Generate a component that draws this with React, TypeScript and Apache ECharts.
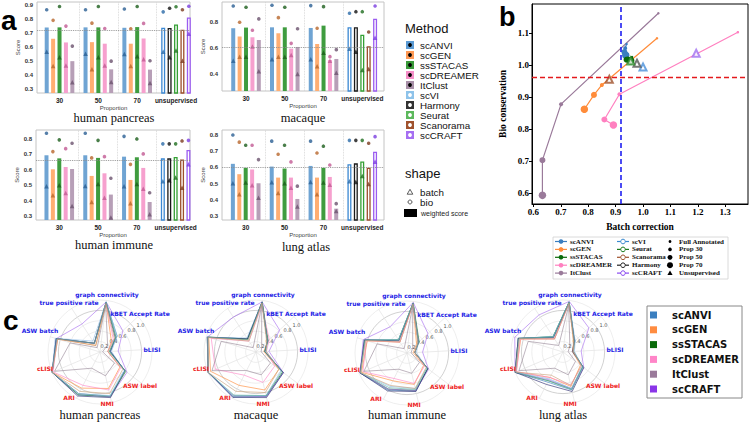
import { useEffect, useRef } from 'react';
import * as echarts from 'echarts';

// ---------------- data: panel a ----------------
const proportions = ['30', '50', '70', 'unsupervised'];
const supMethods = ['scANVI', 'scGEN', 'ssSTACAS', 'scDREAMER', 'ItClust'];
const unsupMethods = ['scVI', 'Harmony', 'Seurat', 'Scanorama', 'scCRAFT'];

// rows: prop 30, prop 50, prop 70, unsupervised ; columns: 5 methods of that group
const pancreasWeighted = [
  [0.739, 0.659, 0.74, 0.633, 0.5],
  [0.74, 0.635, 0.74, 0.624, 0.442],
  [0.737, 0.624, 0.742, 0.661, 0.44],
  [0.737, 0.735, 0.76, 0.723, 0.81],
];
const pancreasBatch = [
  [0.567, 0.465, 0.527, 0.47, 0.35],
  [0.553, 0.442, 0.527, 0.47, 0.352],
  [0.55, 0.465, 0.534, 0.513, 0.345],
  [0.567, 0.527, 0.576, 0.503, 0.694],
];
const pancreasBio = [
  [0.865, 0.79, 0.888, 0.749, 0.607],
  [0.865, 0.77, 0.888, 0.732, 0.5],
  [0.87, 0.73, 0.888, 0.768, 0.503],
  [0.85, 0.876, 0.886, 0.865, 0.89],
];
const pancreasMean = 0.718;

const macaqueWeighted = [
  [0.754, 0.69, 0.759, 0.684, 0.663],
  [0.761, 0.715, 0.761, 0.596, 0.609],
  [0.756, 0.632, 0.774, 0.508, 0.516],
  [0.761, 0.761, 0.704, 0.614, 0.828],
];
const macaqueBatch = [
  [0.503, 0.534, 0.534, 0.612, 0.42],
  [0.514, 0.534, 0.534, 0.547, 0.4],
  [0.514, 0.459, 0.565, 0.503, 0.41],
  [0.595, 0.572, 0.43, 0.438, 0.68],
];
const macaqueBio = [
  [0.926, 0.8, 0.916, 0.738, 0.826],
  [0.932, 0.836, 0.916, 0.637, 0.75],
  [0.929, 0.754, 0.921, 0.534, 0.588],
  [0.87, 0.882, 0.882, 0.725, 0.926],
];
const macaqueMean = 0.612;

const immuneWeighted = [
  [0.694, 0.603, 0.674, 0.618, 0.605],
  [0.694, 0.56, 0.677, 0.577, 0.439],
  [0.685, 0.534, 0.681, 0.612, 0.391],
  [0.674, 0.674, 0.683, 0.666, 0.729],
];
const immuneBatch = [
  [0.493, 0.434, 0.5, 0.45, 0.365],
  [0.495, 0.391, 0.508, 0.419, 0.29],
  [0.493, 0.382, 0.508, 0.477, 0.311],
  [0.525, 0.532, 0.549, 0.484, 0.635],
];
const immuneBio = [
  [0.837, 0.718, 0.794, 0.737, 0.772],
  [0.837, 0.677, 0.791, 0.685, 0.545],
  [0.817, 0.635, 0.8, 0.703, 0.451],
  [0.768, 0.768, 0.768, 0.787, 0.791],
];
const immuneMean = 0.661;

const lungWeighted = [
  [0.622, 0.558, 0.597, 0.587, 0.502],
  [0.605, 0.537, 0.593, 0.537, 0.405],
  [0.609, 0.537, 0.597, 0.541, 0.345],
  [0.619, 0.625, 0.637, 0.598, 0.697],
];
const lungBatch = [
  [0.502, 0.434, 0.506, 0.49, 0.413],
  [0.508, 0.442, 0.502, 0.475, 0.358],
  [0.51, 0.434, 0.506, 0.492, 0.331],
  [0.514, 0.51, 0.547, 0.498, 0.635],
];
const lungBio = [
  [0.8, 0.756, 0.737, 0.737, 0.648],
  [0.762, 0.681, 0.737, 0.634, 0.484],
  [0.762, 0.689, 0.731, 0.615, 0.376],
  [0.767, 0.767, 0.767, 0.749, 0.79],
];
const lungMean = 0.597;

const ticksPancreas = [0.3, 0.4, 0.5, 0.6, 0.7, 0.8, 0.9];
const ticksMacaque = [0.4, 0.6, 0.8];
const ticksImmune = [0.3, 0.4, 0.5, 0.6, 0.7, 0.8];
const ticksLung = [0.3, 0.4, 0.5, 0.6, 0.7, 0.8];

// ---------------- data: panel b ----------------
const levelNames = ['Full Annotated', 'Prop 30', 'Prop 50', 'Prop 70'];
const batchScANVI = [0.94, 0.935, 0.932, 0.937];
const bioScANVI = [1.065, 1.052, 1.04, 1.03];
const batchScGEN = [1.051, 0.85, 0.821, 0.786];
const bioScGEN = [1.083, 0.937, 0.906, 0.861];
const batchSsSTACAS = [0.96, 0.945, 0.94, 0.955];
const bioSsSTACAS = [1.024, 1.02, 1.016, 1.013];
const batchScDREAMER = [1.346, 0.914, 0.859, 0.892];
const bioScDREAMER = [1.102, 0.908, 0.829, 0.812];
const batchItClust = [1.056, 0.701, 0.633, 0.633];
const bioItClust = [1.161, 0.877, 0.702, 0.592];
const unsupBatchB = [1.0, 0.978, 0.955, 0.877, 1.194]; // scVI, Harmony, Seurat, Scanorama, scCRAFT
const unsupBioB = [0.993, 1.005, 1.012, 0.955, 1.036];
const batchThreshold = 0.923;
const bioThreshold = 0.961;
const xTicksB = [0.6, 0.7, 0.8, 0.9, 1.0, 1.1, 1.2, 1.3];
const yTicksB = [0.6, 0.7, 0.8, 0.9, 1.0, 1.1];

// ---------------- data: panel c ----------------
const metrics = ['graph connectivity', 'true positive rate', 'ASW batch', 'cLISI', 'ARI', 'NMI', 'ASW label', 'bLISI', 'kBET Accept Rate'];
const metricIsBatch = [true, true, true, false, false, false, false, true, true];
const radarMethods = ['scANVI', 'scGEN', 'ssSTACAS', 'scDREAMER', 'ItClust', 'scCRAFT', 'scVI', 'Harmony', 'Seurat', 'Scanorama'];
const radarPancreas = [
  [0.97, 0.2, 0.88, 1.0, 0.93, 0.88, 0.6, 0.2, 0.45],
  [0.95, 0.15, 0.85, 1.0, 0.78, 0.72, 0.48, 0.15, 0.3],
  [0.96, 0.2, 0.88, 1.0, 0.92, 0.88, 0.62, 0.18, 0.42],
  [0.95, 0.2, 0.86, 0.98, 0.72, 0.75, 0.5, 0.15, 0.35],
  [0.9, 0.1, 0.6, 0.95, 0.35, 0.47, 0.35, 0.05, 0.2],
  [0.97, 0.64, 0.88, 1.0, 0.9, 0.88, 0.65, 0.35, 0.6],
  [0.96, 0.25, 0.9, 1.0, 0.9, 0.86, 0.58, 0.22, 0.45],
  [0.96, 0.2, 0.88, 1.0, 0.95, 0.9, 0.6, 0.2, 0.4],
  [0.97, 0.2, 0.87, 1.0, 0.9, 0.87, 0.6, 0.18, 0.42],
  [0.94, 0.15, 0.85, 1.0, 0.85, 0.82, 0.55, 0.15, 0.38],
];
const radarMacaque = [
  [0.97, 0.3, 0.98, 1.0, 0.97, 0.88, 0.65, 0.17, 0.3],
  [0.95, 0.28, 0.95, 0.95, 0.72, 0.75, 0.55, 0.15, 0.3],
  [0.97, 0.3, 0.98, 1.0, 0.95, 0.87, 0.64, 0.17, 0.32],
  [0.9, 0.25, 0.9, 0.85, 0.5, 0.6, 0.45, 0.2, 0.35],
  [0.9, 0.1, 0.7, 0.92, 0.4, 0.45, 0.35, 0.1, 0.15],
  [0.97, 0.8, 0.98, 1.0, 0.95, 0.88, 0.66, 0.25, 0.62],
  [0.97, 0.32, 0.97, 1.0, 0.95, 0.86, 0.6, 0.2, 0.3],
  [0.97, 0.3, 0.97, 1.0, 0.98, 0.9, 0.66, 0.17, 0.3],
  [0.96, 0.28, 0.97, 1.0, 0.93, 0.86, 0.62, 0.17, 0.3],
  [0.95, 0.25, 0.96, 1.0, 0.85, 0.8, 0.55, 0.2, 0.28],
];
const radarImmune = [
  [0.97, 0.3, 0.85, 0.98, 0.8, 0.75, 0.5, 0.15, 0.3],
  [0.94, 0.25, 0.8, 0.95, 0.6, 0.62, 0.4, 0.12, 0.25],
  [0.97, 0.3, 0.85, 0.98, 0.78, 0.74, 0.5, 0.15, 0.32],
  [0.93, 0.25, 0.82, 0.92, 0.55, 0.6, 0.42, 0.15, 0.3],
  [0.9, 0.1, 0.6, 0.9, 0.35, 0.4, 0.3, 0.08, 0.15],
  [0.98, 0.6, 0.88, 0.98, 0.78, 0.74, 0.52, 0.3, 0.55],
  [0.96, 0.3, 0.86, 0.97, 0.72, 0.7, 0.48, 0.18, 0.3],
  [0.96, 0.28, 0.86, 0.98, 0.82, 0.76, 0.5, 0.15, 0.3],
  [0.96, 0.3, 0.84, 0.97, 0.75, 0.72, 0.48, 0.15, 0.3],
  [0.95, 0.25, 0.83, 0.97, 0.7, 0.7, 0.46, 0.15, 0.28],
];
const radarLung = [
  [0.97, 0.35, 0.9, 1.0, 0.65, 0.75, 0.48, 0.2, 0.3],
  [0.95, 0.3, 0.85, 0.98, 0.55, 0.68, 0.42, 0.18, 0.28],
  [0.97, 0.35, 0.9, 1.0, 0.62, 0.73, 0.47, 0.2, 0.3],
  [0.94, 0.3, 0.86, 0.97, 0.55, 0.65, 0.45, 0.2, 0.3],
  [0.9, 0.15, 0.7, 0.92, 0.35, 0.45, 0.3, 0.1, 0.18],
  [0.98, 0.85, 0.97, 1.0, 0.6, 0.72, 0.5, 0.35, 0.68],
  [0.97, 0.35, 0.9, 0.99, 0.58, 0.72, 0.46, 0.22, 0.32],
  [0.96, 0.33, 0.9, 1.0, 0.7, 0.78, 0.5, 0.18, 0.3],
  [0.97, 0.35, 0.88, 0.99, 0.62, 0.74, 0.48, 0.2, 0.3],
  [0.95, 0.3, 0.88, 0.99, 0.5, 0.66, 0.44, 0.2, 0.28],
];
const radarTicks = [0.2, 0.4, 0.6, 0.8, 1.0];
const datasetNames = ['human pancreas', 'macaque', 'human immune', 'lung atlas'];

// ---------------- styles ----------------
const SANS = '"Liberation Sans", Arial, sans-serif';
const DEJAVU = '"DejaVu Sans", sans-serif';
const SERIF = '"Liberation Serif", "Times New Roman", serif';

const supBar = ['#6fa4d3', '#ffae72', '#3f9c3f', '#f6a0ce', '#b79fb7'];
const supDot = ['#2a5f93', '#b8672c', '#1b5e1b', '#c25a93', '#6c536e'];
const unsupEdge = ['#3b88d2', '#1a1a1a', '#35a035', '#9c4f2b', '#9b5cf0'];
const unsupDot = ['#2a6aa8', '#111111', '#1f6e1f', '#7a3a1e', '#7b3fe0'];
const legendAFill = ['#5b9bd5', '#ff9a55', '#3a9a3a', '#f58fc8', '#a890a8', '#8ec3ea', '#333333', '#5cb85c', '#a0522d', '#a66ff2'];
const bColors = ['#3a7ebf', '#ff8c3a', '#0a6b0a', '#ff80c0', '#9a7a9a'];
const bUnsupColors = ['#4a90d9', '#555555', '#2f8f2f', '#a0522d', '#a070f0'];
const levelSizes = [2.5, 4, 6, 7.5];
const radarColors = ['#3a7ebf', '#ff8c3a', '#1a7a1a', '#ff88c8', '#9a8a9a', '#a970f0', '#8fbce6', '#2c2c70', '#5fb3a8', '#c9a27a'];
const slotOffset = [-0.33, -0.165, 0, 0.165, 0.33];

function buildOption() {
  const grid: any[] = [];
  const xAxis: any[] = [];
  const yAxis: any[] = [];
  const series: any[] = [];
  const g: any[] = [];

  const panels = [
    { w: pancreasWeighted, b: pancreasBatch, o: pancreasBio, mean: pancreasMean, box: { left: 37, top: 2, width: 153, height: 91 }, x: [-0.58, 3.36], y: [0.274, 0.92], ticks: ticksPancreas },
    { w: macaqueWeighted, b: macaqueBatch, o: macaqueBio, mean: macaqueMean, box: { left: 222, top: 2, width: 162, height: 89 }, x: [-0.62, 3.56], y: [0.268, 0.957], ticks: ticksMacaque },
    { w: immuneWeighted, b: immuneBatch, o: immuneBio, mean: immuneMean, box: { left: 36, top: 130, width: 154, height: 90 }, x: [-0.6, 3.37], y: [0.274, 0.858], ticks: ticksImmune },
    { w: lungWeighted, b: lungBatch, o: lungBio, mean: lungMean, box: { left: 222, top: 130, width: 162, height: 90 }, x: [-0.61, 3.56], y: [0.275, 0.831], ticks: ticksLung },
  ];

  panels.forEach((p, i) => {
    grid.push({ ...p.box, show: true, borderColor: '#c4c4c4', borderWidth: 1, backgroundColor: 'transparent' });
    xAxis.push({
      gridIndex: i, type: 'value', min: p.x[0], max: p.x[1],
      axisLine: { show: false }, axisTick: { show: false }, splitLine: { show: false },
      axisLabel: { customValues: [0, 1, 2, 3], formatter: (v: number) => proportions[Math.round(v)] ?? '', fontSize: 6.5, fontWeight: 'bold', color: '#222', fontFamily: SANS, margin: 4 },
      name: 'Proportion', nameLocation: 'middle', nameGap: 12,
      nameTextStyle: { fontSize: 6, color: '#444', fontFamily: SANS },
    });
    yAxis.push({
      gridIndex: i, type: 'value', min: p.y[0], max: p.y[1],
      axisLine: { show: false }, axisTick: { show: false }, splitLine: { show: false },
      axisLabel: { customValues: p.ticks, formatter: (v: number) => v.toFixed(1), fontSize: 6, fontWeight: 'bold', color: '#333', fontFamily: SANS, margin: 4 },
      name: 'Score', nameLocation: 'middle', nameGap: 16, nameRotate: 90,
      nameTextStyle: { fontSize: 6, color: '#444', fontFamily: SANS },
    });
    const barData: any[] = [];
    const triData: any[] = [];
    const cirData: any[] = [];
    p.w.forEach((row, gi) => row.forEach((v, s) => {
      const x = gi + slotOffset[s];
      const unsup = gi === 3;
      const name = unsup ? unsupMethods[s] : supMethods[s];
      barData.push({ name, value: [x, v], itemStyle: unsup ? { color: '#ffffff', borderColor: unsupEdge[s], borderWidth: 1.3 } : { color: supBar[s] } });
      triData.push({ name, value: [x, p.b[gi][s]], itemStyle: { color: unsup ? unsupDot[s] : supDot[s] } });
      cirData.push({ name, value: [x, p.o[gi][s]], itemStyle: { color: unsup ? unsupDot[s] : supDot[s] } });
    }));
    series.push({
      type: 'bar', name: 'weighted score', xAxisIndex: i, yAxisIndex: i, barWidth: 4, data: barData, z: 2,
      markLine: {
        silent: true, symbol: ['none', 'none'], label: { show: false },
        data: [
          { xAxis: 0.5, lineStyle: { color: '#cfcfcf', type: 'dotted', width: 0.8 } },
          { xAxis: 1.5, lineStyle: { color: '#cfcfcf', type: 'dotted', width: 0.8 } },
          { xAxis: 2.5, lineStyle: { color: '#cfcfcf', type: 'dotted', width: 0.8 } },
          { yAxis: p.mean, lineStyle: { color: '#8a8a8a', type: 'dotted', width: 0.9 } },
        ],
      },
    });
    series.push({ type: 'scatter', name: 'batch', xAxisIndex: i, yAxisIndex: i, symbol: 'triangle', symbolSize: 4.5, data: triData, z: 4 });
    series.push({ type: 'scatter', name: 'bio', xAxisIndex: i, yAxisIndex: i, symbol: 'circle', symbolSize: 3.6, data: cirData, z: 4 });
  });

  // panel a titles
  const aTitles = [[114, 118, 'human pancreas'], [303, 118, 'macaque'], [114, 245, 'human immune'], [306, 247, 'lung atlas']];
  aTitles.forEach(([x, y, t]) => g.push({ type: 'text', x, y, style: { text: t, fontSize: 12.5, fontFamily: SERIF, fill: '#111', textAlign: 'center', align: 'center', textVerticalAlign: 'middle', verticalAlign: 'middle' } }));

  // panel a legend
  g.push({ type: 'text', x: 405, y: 28, style: { text: 'Method', fontSize: 13, fontFamily: SANS, fill: '#111', textVerticalAlign: 'middle', verticalAlign: 'middle' } });
  [...supMethods, ...unsupMethods].forEach((m, i) => {
    const y = 45 + i * 10;
    g.push({ type: 'rect', shape: { x: 406, y: y - 4, width: 8, height: 8 }, style: { fill: legendAFill[i] } });
    g.push({ type: 'circle', shape: { cx: 410, cy: y, r: 1.9 }, style: { fill: i < 5 ? '#000' : '#fff' } });
    g.push({ type: 'text', x: 420, y, style: { text: m, fontSize: 9.8, fontFamily: SANS, fill: '#111', textVerticalAlign: 'middle', verticalAlign: 'middle' } });
  });
  g.push({ type: 'text', x: 405, y: 173, style: { text: 'shape', fontSize: 13, fontFamily: SANS, fill: '#111', textVerticalAlign: 'middle', verticalAlign: 'middle' } });
  g.push({ type: 'polygon', shape: { points: [[410, 189.3], [407.2, 194.2], [412.8, 194.2]] }, style: { fill: 'none', stroke: '#333', lineWidth: 0.8 } });
  g.push({ type: 'text', x: 420, y: 192, style: { text: 'batch', fontSize: 9.8, fontFamily: SANS, fill: '#111', textVerticalAlign: 'middle', verticalAlign: 'middle' } });
  g.push({ type: 'circle', shape: { cx: 410, cy: 202, r: 2 }, style: { fill: 'none', stroke: '#333', lineWidth: 0.8 } });
  g.push({ type: 'text', x: 420, y: 202, style: { text: 'bio', fontSize: 9.8, fontFamily: SANS, fill: '#111', textVerticalAlign: 'middle', verticalAlign: 'middle' } });
  g.push({ type: 'rect', shape: { x: 404, y: 209, width: 13, height: 8 }, style: { fill: '#000' } });
  g.push({ type: 'text', x: 421, y: 213.5, style: { text: 'weighted score', fontSize: 7, fontFamily: SANS, fill: '#222', textVerticalAlign: 'middle', verticalAlign: 'middle' } });

  // ---------------- panel b ----------------
  const bi = 4;
  grid.push({ left: 532, top: 4, width: 216, height: 200, show: true, borderColor: '#000', borderWidth: 1, backgroundColor: 'transparent' });
  xAxis.push({
    gridIndex: bi, type: 'value', min: 0.595, max: 1.383,
    axisLine: { show: true, lineStyle: { color: '#000', width: 1 } },
    axisTick: { show: true, customValues: xTicksB, length: 3, lineStyle: { color: '#000' } },
    splitLine: { show: false },
    axisLabel: { customValues: xTicksB, formatter: (v: number) => v.toFixed(1), fontSize: 9, fontWeight: 'bold', fontFamily: SERIF, color: '#000', margin: 3 },
    name: 'Batch correction', nameLocation: 'middle', nameGap: 18,
    nameTextStyle: { fontSize: 9.5, fontWeight: 'bold', fontFamily: SERIF, color: '#000' },
  });
  yAxis.push({
    gridIndex: bi, type: 'value', min: 0.565, max: 1.19,
    axisLine: { show: true, lineStyle: { color: '#000', width: 1 } },
    axisTick: { show: true, customValues: yTicksB, length: 3, lineStyle: { color: '#000' } },
    splitLine: { show: false },
    axisLabel: { customValues: yTicksB, formatter: (v: number) => v.toFixed(1), fontSize: 9, fontWeight: 'bold', fontFamily: SERIF, color: '#000', margin: 3 },
    name: 'Bio conservation', nameLocation: 'middle', nameGap: 24, nameRotate: 90,
    nameTextStyle: { fontSize: 9.5, fontWeight: 'bold', fontFamily: SERIF, color: '#000' },
  });
  const bLines = [
    [batchScANVI, bioScANVI], [batchScGEN, bioScGEN], [batchSsSTACAS, bioSsSTACAS], [batchScDREAMER, bioScDREAMER], [batchItClust, bioItClust],
  ];
  bLines.forEach(([bx, by], k) => {
    series.push({
      type: 'line', name: supMethods[k], xAxisIndex: bi, yAxisIndex: bi,
      data: bx.map((x, j) => ({ name: levelNames[j], value: [x, by[j]] })),
      symbol: 'circle', symbolSize: (_v: any, params: any) => levelSizes[params.dataIndex],
      lineStyle: { color: bColors[k], width: 1.2 }, itemStyle: { color: bColors[k] }, z: 3,
    });
  });
  series.push({
    type: 'scatter', name: 'Unsupervised', xAxisIndex: bi, yAxisIndex: bi, symbol: 'emptyTriangle', symbolSize: 7,
    data: unsupBatchB.map((x, j) => ({ name: unsupMethods[j], value: [x, unsupBioB[j]], itemStyle: { color: bUnsupColors[j], borderWidth: 1 } })),
    z: 4,
    markLine: {
      silent: true, symbol: ['none', 'none'], label: { show: false },
      data: [
        { xAxis: batchThreshold, lineStyle: { color: '#2020f0', type: [5, 3], width: 1.6 } },
        { yAxis: bioThreshold, lineStyle: { color: '#e41a1c', type: [5, 3], width: 1.3 } },
      ],
    },
  });

  // panel b legend
  g.push({ type: 'rect', shape: { x: 553, y: 237, width: 175, height: 42 }, style: { fill: '#fff', stroke: '#d0d0d0', lineWidth: 0.8 } });
  const col2Names = ['scVI', 'Seurat', 'Scanorama', 'Harmony', 'scCRAFT'];
  const col2Colors = ['#3a8ad0', '#1a7a1a', '#a0522d', '#222222', '#8a4af0'];
  for (let i = 0; i < 5; i++) {
    const y = 241.5 + i * 7.9;
    g.push({ type: 'line', shape: { x1: 555, y1: y, x2: 567, y2: y }, style: { stroke: bColors[i], lineWidth: 1.2 } });
    g.push({ type: 'circle', shape: { cx: 561, cy: y, r: 2.3 }, style: { fill: bColors[i] } });
    g.push({ type: 'text', x: 570, y, style: { text: supMethods[i], fontSize: 7, fontWeight: 'bold', fontFamily: SERIF, fill: '#111', textVerticalAlign: 'middle', verticalAlign: 'middle' } });
    g.push({ type: 'line', shape: { x1: 617, y1: y, x2: 629, y2: y }, style: { stroke: col2Colors[i], lineWidth: 1.2 } });
    g.push({ type: 'circle', shape: { cx: 623, cy: y, r: 2.3 }, style: { fill: '#fff', stroke: col2Colors[i], lineWidth: 1 } });
    g.push({ type: 'text', x: 632, y, style: { text: col2Names[i], fontSize: 7, fontWeight: 'bold', fontFamily: SERIF, fill: '#111', textVerticalAlign: 'middle', verticalAlign: 'middle' } });
    if (i < 4) {
      g.push({ type: 'circle', shape: { cx: 670, cy: y, r: [1.4, 1.8, 2.4, 3][i] }, style: { fill: '#000' } });
      g.push({ type: 'text', x: 679, y, style: { text: levelNames[i], fontSize: 7, fontWeight: 'bold', fontFamily: SERIF, fill: '#111', textVerticalAlign: 'middle', verticalAlign: 'middle' } });
    } else {
      g.push({ type: 'polygon', shape: { points: [[670, y - 2.6], [667.4, y + 2], [672.6, y + 2]] }, style: { fill: '#000' } });
      g.push({ type: 'text', x: 679, y, style: { text: 'Unsupervised', fontSize: 7, fontWeight: 'bold', fontFamily: SERIF, fill: '#111', textVerticalAlign: 'middle', verticalAlign: 'middle' } });
    }
  }

  // ---------------- panel c ----------------
  const centers = [[100, 352], [256, 352], [407, 353], [563, 352]];
  const R = 52;
  const radarVals = [radarPancreas, radarMacaque, radarImmune, radarLung];
  const radar = centers.map((c) => ({
    center: c, radius: R, startAngle: 83, shape: 'circle', splitNumber: 5,
    indicator: metrics.map((m) => ({ name: m, min: 0, max: 1 })),
    axisName: { show: false },
    splitArea: { show: false },
    splitLine: { lineStyle: { color: ['#e6e6e6', '#e6e6e6', '#e6e6e6', '#e6e6e6', '#bdbdbd'], width: 0.7 } },
    axisLine: { lineStyle: { color: '#e2e2e2', width: 0.7 } },
  }));
  const polar = centers.map((c) => ({ center: c, radius: R }));
  const angleAxis = centers.map((_, i) => ({ polarIndex: i, type: 'value', min: 0, max: 360, startAngle: 30, show: false }));
  const radiusAxis = centers.map((_, i) => ({
    polarIndex: i, type: 'value', min: 0, max: 1,
    axisLine: { show: false }, axisTick: { show: false }, splitLine: { show: false },
    axisLabel: { customValues: radarTicks, formatter: (v: number) => v.toFixed(1), fontSize: 5, color: '#555', fontFamily: DEJAVU, margin: 1 },
  }));
  radarVals.forEach((vals, i) => {
    series.push({
      type: 'radar', radarIndex: i, symbol: 'none', silent: true,
      data: radarMethods.map((m, j) => ({ name: m, value: vals[j], lineStyle: { color: radarColors[j], width: 0.75, opacity: 0.85 }, itemStyle: { color: radarColors[j] } })),
    });
  });
  const labelDx = [7, -31, -60, -55, -31, 7, 40, 52, 40];
  const labelDy = [-57.5, -49.5, -22, 16, 45, 51, 33, -3, -39];
  centers.forEach((c, i) => {
    metrics.forEach((m, k) => {
      g.push({ type: 'text', x: c[0] + labelDx[k], y: c[1] + labelDy[k], z: 10, style: { text: m, fontSize: 6, fontWeight: 'bold', fontFamily: DEJAVU, fill: metricIsBatch[k] ? '#2424e6' : '#ee2222', textAlign: 'center', align: 'center', textVerticalAlign: 'middle', verticalAlign: 'middle' } });
    });
    g.push({ type: 'text', x: c[0], y: 415, style: { text: datasetNames[i], fontSize: 12.5, fontFamily: SERIF, fill: '#111', textAlign: 'center', align: 'center', textVerticalAlign: 'middle', verticalAlign: 'middle' } });
  });
  // panel c legend
  const cLegend = ['scANVI', 'scGEN', 'ssSTACAS', 'scDREAMER', 'ItClust', 'scCRAFT'];
  const cLegendColors = ['#3b7fbf', '#ff8c40', '#0a6b0a', '#ff85c8', '#9a7a9a', '#8a35e8'];
  g.push({ type: 'rect', shape: { x: 647, y: 306, width: 95, height: 92 }, style: { fill: '#fff', stroke: '#888', lineWidth: 1 } });
  cLegend.forEach((m, i) => {
    const y = 315 + i * 14.8;
    g.push({ type: 'rect', shape: { x: 650, y: y - 3.5, width: 7, height: 7 }, style: { fill: cLegendColors[i] } });
    g.push({ type: 'text', x: 672, y, style: { text: m, fontSize: 10, fontWeight: 'bold', fontFamily: DEJAVU, fill: '#111', textVerticalAlign: 'middle', verticalAlign: 'middle' } });
  });

  // panel letters
  g.push({ type: 'text', x: 1, y: 20, style: { text: 'a', fontSize: 28, fontWeight: 'bold', fontFamily: SANS, fill: '#000', textVerticalAlign: 'middle', verticalAlign: 'middle' } });
  g.push({ type: 'text', x: 499, y: 17, style: { text: 'b', fontSize: 27, fontWeight: 'bold', fontFamily: SANS, fill: '#000', textVerticalAlign: 'middle', verticalAlign: 'middle' } });
  g.push({ type: 'text', x: 3, y: 320, style: { text: 'c', fontSize: 28, fontWeight: 'bold', fontFamily: SANS, fill: '#000', textVerticalAlign: 'middle', verticalAlign: 'middle' } });

  return {
    animation: false,
    backgroundColor: '#ffffff',
    grid, xAxis, yAxis, radar, polar, angleAxis, radiusAxis,
    series,
    graphic: { elements: g },
  };
}

export default function App() {
  const ref = useRef<HTMLDivElement>(null);
  useEffect(() => {
    const chart = echarts.init(ref.current!, null, { renderer: 'svg' });
    chart.setOption(buildOption() as any);
    return () => chart.dispose();
  }, []);
  return <div ref={ref} style={{ position: 'fixed', left: 0, top: 0, width: 750, height: 424, background: '#fff' }} />;
}
